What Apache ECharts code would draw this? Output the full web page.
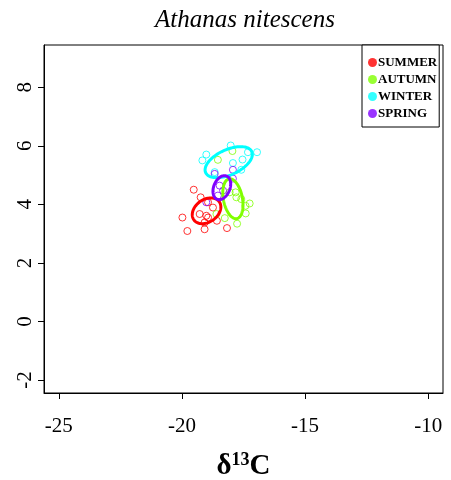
<!DOCTYPE html>
<html>
<head>
<meta charset="utf-8">
<script src="https://cdn.jsdelivr.net/npm/echarts@6/dist/echarts.min.js"></script>
<style>html,body{margin:0;padding:0;background:#fff}#c{width:451px;height:480px}</style>
</head>
<body>
<div id="c"></div>
<script>
const seasons = ['SUMMER','AUTUMN','WINTER','SPRING'];
const colors = ['#FF0000','#80FF00','#00FFFF','#8000FF'];
const xTicks = [-25,-20,-15,-10];
const yTicks = [-2,0,2,4,6,8];

const summerPts = [[-19.52,4.50],[-19.24,4.24],[-19.98,3.55],[-19.28,3.67],[-19.01,3.61],[-18.94,3.55],[-19.08,3.38],[-19.78,3.09],[-19.08,3.15],[-18.58,3.44],[-18.17,3.19],[-18.94,4.07],[-18.74,3.89]];
const autumnPts = [[-17.95,5.82],[-18.54,5.52],[-18.06,4.41],[-17.82,4.41],[-17.79,4.24],[-17.59,4.18],[-17.25,4.03],[-17.42,3.95],[-17.41,3.69],[-18.26,3.53],[-17.76,3.34],[-18.60,3.67]];
const winterPts = [[-18.02,6.01],[-17.32,5.78],[-16.95,5.78],[-19.01,5.70],[-19.17,5.50],[-17.93,5.41],[-17.54,5.53],[-18.67,5.10],[-17.59,5.18]];
const springPts = [[-17.93,5.18],[-18.67,5.04],[-17.93,4.88],[-18.47,4.64],[-18.33,4.47],[-18.54,4.30],[-19.01,4.07]];

// ellipse parameters: centre x, centre y, half-extent x, half-extent y, correlation
const summerEll = [-19.0, 3.78, 0.58, 0.44, 0.3];
const autumnEll = [-17.93, 4.19, 0.41, 0.68, -0.3];
const winterEll = [-18.10, 5.44, 0.96, 0.53, 0.5];
const springEll = [-18.38, 4.57, 0.36, 0.41, 0.3];

const pts = [summerPts, autumnPts, winterPts, springPts];
const ells = [summerEll, autumnEll, winterEll, springEll];

const serif = '"Liberation Serif","DejaVu Serif",serif';
const chart = echarts.init(document.getElementById('c'));

const series = [];
seasons.forEach((s, i) => {
  series.push({
    name: s, type: 'scatter', data: pts[i], symbol: 'circle', symbolSize: 7,
    itemStyle: { color: 'rgba(0,0,0,0)', borderColor: colors[i], borderWidth: 1 },
    z: 3
  });
});
seasons.forEach((s, i) => {
  series.push({
    name: s + ' ellipse', type: 'custom', data: [ells[i]], z: 4,
    renderItem: function (params, api) {
      const cx = api.value(0), cy = api.value(1), sx = api.value(2), sy = api.value(3), r = api.value(4);
      const p = [];
      for (let k = 0; k <= 100; k++) {
        const t = k / 100 * Math.PI * 2;
        const x = cx + sx * Math.cos(t);
        const y = cy + sy * (r * Math.cos(t) + Math.sqrt(1 - r * r) * Math.sin(t));
        p.push(api.coord([x, y]));
      }
      return { type: 'polygon', shape: { points: p }, style: { fill: 'none', stroke: colors[i], lineWidth: 3 } };
    }
  });
});

chart.setOption({
  animation: false,
  title: { text: 'Athanas nitescens', left: 240, textAlign: 'center', top: 3,
    textStyle: { fontFamily: serif, fontStyle: 'italic', fontWeight: 'normal', fontSize: 25, color: '#000' } },
  legend: {
    orient: 'vertical', left: 362, top: 45, width: 81,
    backgroundColor: '#fff', borderColor: '#000', borderWidth: 1,
    padding: [11, 2, 7, 6], itemGap: 4, itemWidth: 9, itemHeight: 9,
    textStyle: { fontFamily: serif, fontWeight: 'bold', fontSize: 13, color: '#000', padding: [0,0,0,-4] },
    data: seasons.map((s, i) => ({ name: s, icon: 'circle', itemStyle: { color: colors[i], borderWidth: 0 } }))
  },
  grid: { left: 44, right: 8, top: 45, bottom: 87, show: true, borderColor: '#000', borderWidth: 1, backgroundColor: 'transparent', containLabel: false, outerBoundsMode: 'none' },
  xAxis: {
    type: 'value', min: -25.6, max: -9.4,
    axisLine: { show: true, onZero: false, lineStyle: { color: '#000' } },
    axisTick: { show: true, length: 6, customValues: xTicks, lineStyle: { color: '#000' } },
    axisLabel: { customValues: xTicks, margin: 23, fontFamily: serif, fontSize: 21, color: '#000' },
    splitLine: { show: false },
    name: '{a|δ}{b|13}{a|C}', nameLocation: 'middle', nameGap: 58,
    nameTextStyle: { rich: {
      a: { fontFamily: serif, fontWeight: 'bold', fontSize: 29, color: '#000' },
      b: { fontFamily: serif, fontWeight: 'bold', fontSize: 18, color: '#000', padding: [0, 0, 13, 0] }
    } }
  },
  yAxis: {
    type: 'value', min: -2.44, max: 9.44,
    axisLine: { show: true, onZero: false, lineStyle: { color: '#000' } },
    axisTick: { show: true, length: 6, customValues: yTicks, lineStyle: { color: '#000' } },
    axisLabel: { customValues: yTicks, rotate: 90, margin: 8, fontFamily: serif, fontSize: 21, color: '#000' },
    splitLine: { show: false }
  },
  series: series
});
</script>
</body>
</html>
